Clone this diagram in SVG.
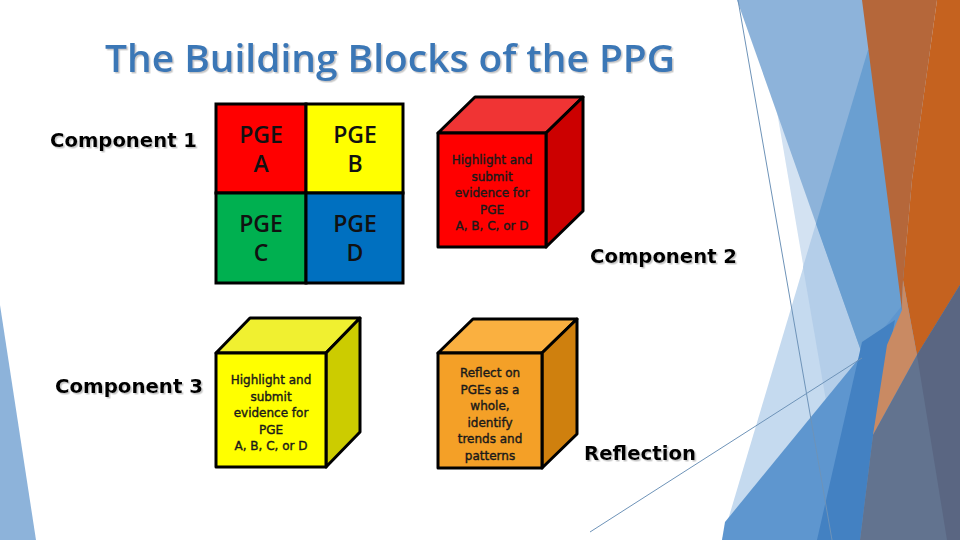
<svg xmlns="http://www.w3.org/2000/svg" width="960" height="540" viewBox="0 0 960 540">
<defs>
  <filter id="sh" x="-5%" y="-20%" width="110%" height="140%">
    <feDropShadow dx="1.5" dy="1.5" stdDeviation="0.6" flood-color="#808080" flood-opacity="0.45"/>
  </filter>
</defs>
<style>
.tl{fill:none;stroke:#6E93B8;stroke-width:1}
.title{font-family:"Open Sans","DejaVu Sans",sans-serif;font-size:37px;font-weight:600;fill:#3A77B6}
.lbl{font-family:"DejaVu Sans",sans-serif;font-weight:bold;font-size:20px;fill:#000}
.cell{stroke:#000;stroke-width:3}
.pge{font-family:"Open Sans","DejaVu Sans",sans-serif;font-size:23px;font-weight:600;fill:#111;text-anchor:middle}
.face{stroke:#000;stroke-width:3;stroke-linejoin:round}
.ct{font-family:"DejaVu Sans",sans-serif;font-size:12px;fill:#1a1a1a;stroke:#1a1a1a;stroke-width:0.4;text-anchor:middle}
</style>
<rect width="960" height="540" fill="#fff"/>
<g id="background">
  <polygon points="0,305 36,540 0,540" fill="#8DB3DA"/>
  <polygon fill="#D3E2F2" points="758,0 960,0 960,540 850,540"/>
  <polygon fill="#C5DAEF" points="868,50 960,50 960,540 722,540"/>
  <polygon fill="#B4CEE9" points="803,267 868,50 960,50 960,540 850,540"/>
  <polygon fill="#8DB3DA" points="737,0 880,0 935,560"/>
  <polygon fill="#6A9FD1" points="868,50 885,50 935,560 816,224"/>
  <polygon fill="#5E96CF" points="725,522 960,235 960,540 722,540"/>
  <polygon fill="#4381C2" points="862,342 895,320 873,435 860,540 817,540"/>
  <polygon fill="#B5673A" points="862,0 937,0 912,180 903,280 902,310"/>
  <polygon fill="#C5621F" points="937,0 960,0 960,285 917,355 903,280 912,180"/>
  <polygon fill="#C98A63" points="903,280 917,355 873,435 887,345 902,310"/>
  <polygon fill="#62738F" points="917,355 960,285 960,540 860,540 873,435"/>
  <polygon fill="#5A6682" points="917,355 960,285 960,540 947,540"/>
  <line class="tl" x1="738" y1="0" x2="832" y2="540"/>
  <line class="tl" x1="590" y1="532" x2="862" y2="358"/>
</g>
<g id="title">
  <text class="title" filter="url(#sh)" x="105" y="72" textLength="570" lengthAdjust="spacingAndGlyphs">The Building Blocks of the PPG</text>
</g>
<g id="label-component1">
  <text class="lbl" filter="url(#sh)" x="50" y="147" textLength="147" lengthAdjust="spacingAndGlyphs">Component 1</text>
</g>
<g id="label-component3">
  <text class="lbl" filter="url(#sh)" x="55" y="393" textLength="148" lengthAdjust="spacingAndGlyphs">Component 3</text>
</g>
<g id="label-component2">
  <text class="lbl" filter="url(#sh)" x="590" y="263" textLength="147" lengthAdjust="spacingAndGlyphs">Component 2</text>
</g>
<g id="label-reflection">
  <text class="lbl" filter="url(#sh)" x="584" y="460" textLength="112" lengthAdjust="spacingAndGlyphs">Reflection</text>
</g>
<g id="pge-grid">
  <g id="pge-a">
    <rect class="cell" x="216" y="104" width="90" height="89" fill="#FF0000"/>
    <text class="pge" x="261" y="143">PGE</text>
    <text class="pge" x="261" y="172">A</text>
  </g>
  <g id="pge-b">
    <rect class="cell" x="306" y="104" width="97" height="89" fill="#FFFF00"/>
    <text class="pge" x="355" y="143">PGE</text>
    <text class="pge" x="355" y="172">B</text>
  </g>
  <g id="pge-c">
    <rect class="cell" x="216" y="193" width="90" height="90" fill="#00B050"/>
    <text class="pge" x="261" y="232">PGE</text>
    <text class="pge" x="261" y="261">C</text>
  </g>
  <g id="pge-d">
    <rect class="cell" x="306" y="193" width="97" height="90" fill="#0070C0"/>
    <text class="pge" x="355" y="232">PGE</text>
    <text class="pge" x="355" y="261">D</text>
  </g>
</g>
<g id="cube-red">
  <polygon class="face" points="438,133 475,97 583,97 546,133" fill="#F03434"/>
  <polygon class="face" points="546,133 583,97 583,211 546,247" fill="#CC0000"/>
  <rect class="face" x="438" y="133" width="108" height="114" fill="#FF0000"/>
  <text class="ct" x="492" y="164">Highlight and</text>
  <text class="ct" x="492" y="180.5">submit</text>
  <text class="ct" x="492" y="197">evidence for</text>
  <text class="ct" x="492" y="213.5">PGE</text>
  <text class="ct" x="492" y="230">A, B, C, or D</text>
</g>
<g id="cube-yellow">
  <polygon class="face" points="216,353 250,318 360,318 326,353" fill="#F0F030"/>
  <polygon class="face" points="326,353 360,318 360,432 326,467" fill="#CCCC00"/>
  <rect class="face" x="216" y="353" width="110" height="114" fill="#FFFF00"/>
  <text class="ct" x="271" y="384">Highlight and</text>
  <text class="ct" x="271" y="400.5">submit</text>
  <text class="ct" x="271" y="417">evidence for</text>
  <text class="ct" x="271" y="433.5">PGE</text>
  <text class="ct" x="271" y="450">A, B, C, or D</text>
</g>
<g id="cube-orange">
  <polygon class="face" points="438,353 473,319 577,319 542,353" fill="#FAB040"/>
  <polygon class="face" points="542,353 577,319 577,434 542,468" fill="#CF800E"/>
  <rect class="face" x="438" y="353" width="104" height="115" fill="#F4A027"/>
  <text class="ct" x="490" y="377">Reflect on</text>
  <text class="ct" x="490" y="393.5">PGEs as a</text>
  <text class="ct" x="490" y="410">whole,</text>
  <text class="ct" x="490" y="426.5">identify</text>
  <text class="ct" x="490" y="443">trends and</text>
  <text class="ct" x="490" y="459.5">patterns</text>
</g>
</svg>
